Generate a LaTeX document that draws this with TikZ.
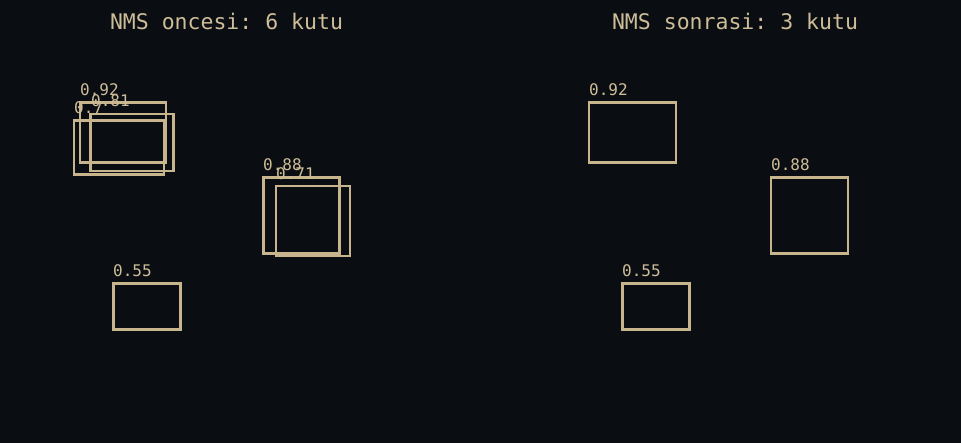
\documentclass[tikz,border=0pt]{standalone}
\usepackage{fontspec}
\setmonofont{DejaVu Sans Mono}
\definecolor{bg}{HTML}{0A0D12}
\definecolor{boxc}{HTML}{C8B58E}
\definecolor{txtc}{HTML}{CDBD98}
\begin{document}
\begin{tikzpicture}[x=1pt,y=-1pt,
  bbox/.style={draw=boxc,line width=2.4pt,rectangle,inner sep=0pt,outer sep=0pt,anchor=north west},
  score/.style={text=txtc,font=\ttfamily\fontsize{16}{16}\selectfont,inner sep=0pt,anchor=base west},
  ttl/.style={text=txtc,font=\ttfamily\fontsize{21.5}{21.5}\selectfont,inner sep=0pt,anchor=base}]
\fill[bg] (0,0) rectangle (961,443);
\useasboundingbox (0,0) rectangle (961,443);
% titles
\node[ttl] (t1) at (226.5,29.5) {NMS oncesi: 6 kutu};
\node[ttl] (t2) at (735,29.5) {NMS sonrasi: 3 kutu};
% left boxes
\node[bbox,minimum width=86pt,minimum height=60pt] (a1) at (80,102.5) {};
\node[score] (la1) at (80,96) {0.92};
\node[bbox,minimum width=83pt,minimum height=57pt] (a2) at (90.5,114) {};
\node[score] (la2) at (91,107) {0.81};
\node[bbox,minimum width=90pt,minimum height=54pt] (a3) at (74,120.5) {};
\node[score] (la3) at (74,114) {0.7};
\node[bbox,minimum width=76pt,minimum height=76pt] (a4) at (263.5,177.5) {};
\node[score] (la4) at (263,171) {0.88};
\node[bbox,minimum width=74pt,minimum height=70pt] (a5) at (276,186) {};
\node[score] (la5) at (276,180) {0.71};
\node[bbox,minimum width=67pt,minimum height=46pt] (a6) at (113.5,283.5) {};
\node[score] (la6) at (113,277) {0.55};
% right boxes
\node[bbox,minimum width=87pt,minimum height=60pt] (b1) at (589,102.5) {};
\node[score] (lb1) at (589,96) {0.92};
\node[bbox,minimum width=77pt,minimum height=76pt] (b2) at (771,177.5) {};
\node[score] (lb2) at (771,171) {0.88};
\node[bbox,minimum width=67pt,minimum height=46pt] (b3) at (622.5,283.5) {};
\node[score] (lb3) at (622,277) {0.55};
\end{tikzpicture}
\end{document}
